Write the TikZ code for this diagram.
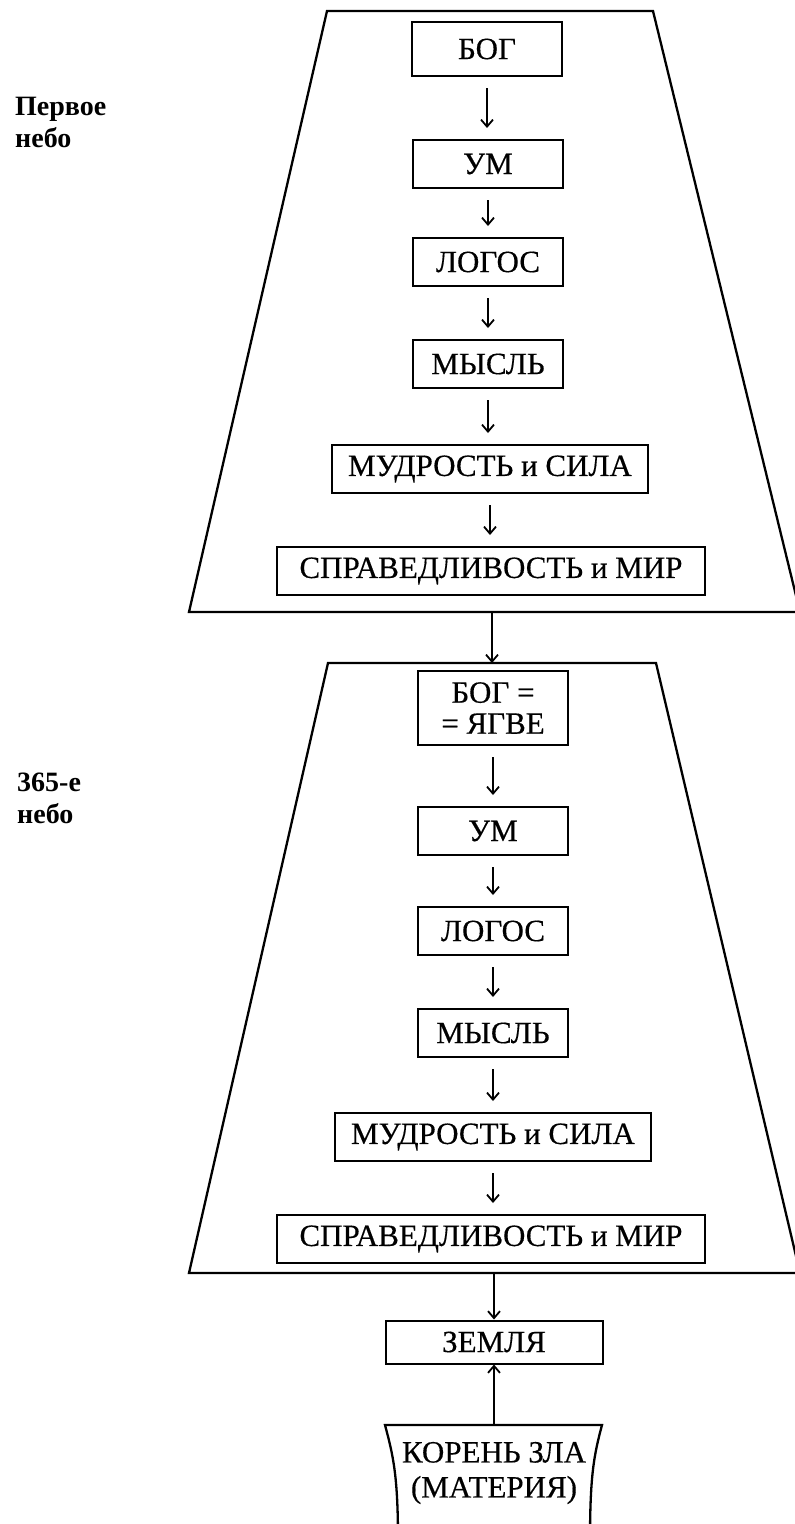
\documentclass[tikz,border=0pt]{standalone}
\usepackage{fontspec}
\setmainfont{Liberation Serif}
\newfontfamily\heavyserif{Liberation Serif}[FakeBold=0.4]
\usetikzlibrary{arrows.meta}
\begin{document}
\begin{tikzpicture}[x=1pt,y=-1pt,
  box/.style={draw, line width=2pt, minimum height=48pt, inner xsep=16pt, inner ysep=4pt,
    font=\heavyserif\fontsize{31}{31}\selectfont, align=center},
  sbox/.style={box, minimum width=150pt},
  arr/.style={line width=1.8pt, -{Straight Barb[length=7pt,width=12pt,line width=1.8pt]}},
  frame/.style={line width=2.3pt, line join=miter},
  lbl/.style={font=\bfseries\fontsize{28}{32}\selectfont, align=left, anchor=north west, inner sep=0pt}]
\useasboundingbox (0,0) rectangle (795,1524);

% first heaven
\coordinate (A1) at (327,11);
\coordinate (B1) at (653,11);
\coordinate (C1) at (800,612);
\coordinate (D1) at (189,612);
\draw[frame] (A1) -- (B1) -- (C1) -- (D1) -- cycle;

\node[lbl] (l1) at (15,97) {Первое\\небо};

\node[sbox, minimum height=54pt] (bog1) at (487,49) {БОГ};
\node[sbox] (um1) at (488,164) {УМ};
\node[sbox] (log1) at (488,262) {ЛОГОС};
\node[sbox] (mys1) at (488,364) {МЫСЛЬ};
\node[box] (mud1) at (490,469) {МУДРОСТЬ и СИЛА};
\node[box, minimum width=428pt] (spr1) at (491,571) {СПРАВЕДЛИВОСТЬ и МИР};

\foreach \a/\b in {bog1/um1, um1/log1, log1/mys1, mys1/mud1, mud1/spr1}
  \draw[arr] ([yshift=-11pt]\a.south) -- ([yshift=11pt]\a.south |- \b.north);

% 365th heaven
\coordinate (A2) at (328,663);
\coordinate (B2) at (656,663);
\coordinate (C2) at (800,1273);
\coordinate (D2) at (189,1273);
\draw[frame] (A2) -- (B2) -- (C2) -- (D2) -- cycle;

\node[lbl] (l2) at (17,773) {365-е\\небо};

\node[sbox, minimum height=74pt, font=\heavyserif\fontsize{31}{31}\selectfont] (bog2) at (493,708) {БОГ =\\= ЯГВЕ};
\node[sbox] (um2) at (493,831) {УМ};
\node[sbox] (log2) at (493,931) {ЛОГОС};
\node[sbox] (mys2) at (493,1033) {МЫСЛЬ};
\node[box] (mud2) at (493,1137) {МУДРОСТЬ и СИЛА};
\node[box, minimum width=428pt] (spr2) at (491,1239) {СПРАВЕДЛИВОСТЬ и МИР};

\foreach \a/\b in {bog2/um2, um2/log2, log2/mys2, mys2/mud2, mud2/spr2}
  \draw[arr] ([yshift=-11pt]\a.south) -- ([yshift=11pt]\a.south |- \b.north);

\coordinate (t1bot) at (492,612);
\coordinate (t2top) at (492,663);
\draw[arr] (t1bot) -- (t2top);

% earth and root of evil
\node[box, minimum width=217pt, minimum height=43pt] (zem) at (494,1342) {ЗЕМЛЯ};
\coordinate (t2bot) at (zem.north |- D2);
\draw[arr] (t2bot) -- (zem.north);

\coordinate (KA) at (385,1425);
\coordinate (KB) at (602,1425);
\draw[frame] (398,1540) .. controls (398,1475) and (393,1455) .. (KA) -- (KB)
  .. controls (594,1455) and (590,1475) .. (590,1540);
\node[font=\heavyserif\fontsize{31}{35}\selectfont, align=center, inner sep=0pt] (kor) at (494,1473) {КОРЕНЬ ЗЛА\\(МАТЕРИЯ)};
\coordinate (ktop) at (zem.south |- KA);
\draw[arr] (ktop) -- (zem.south);
\end{tikzpicture}
\end{document}
